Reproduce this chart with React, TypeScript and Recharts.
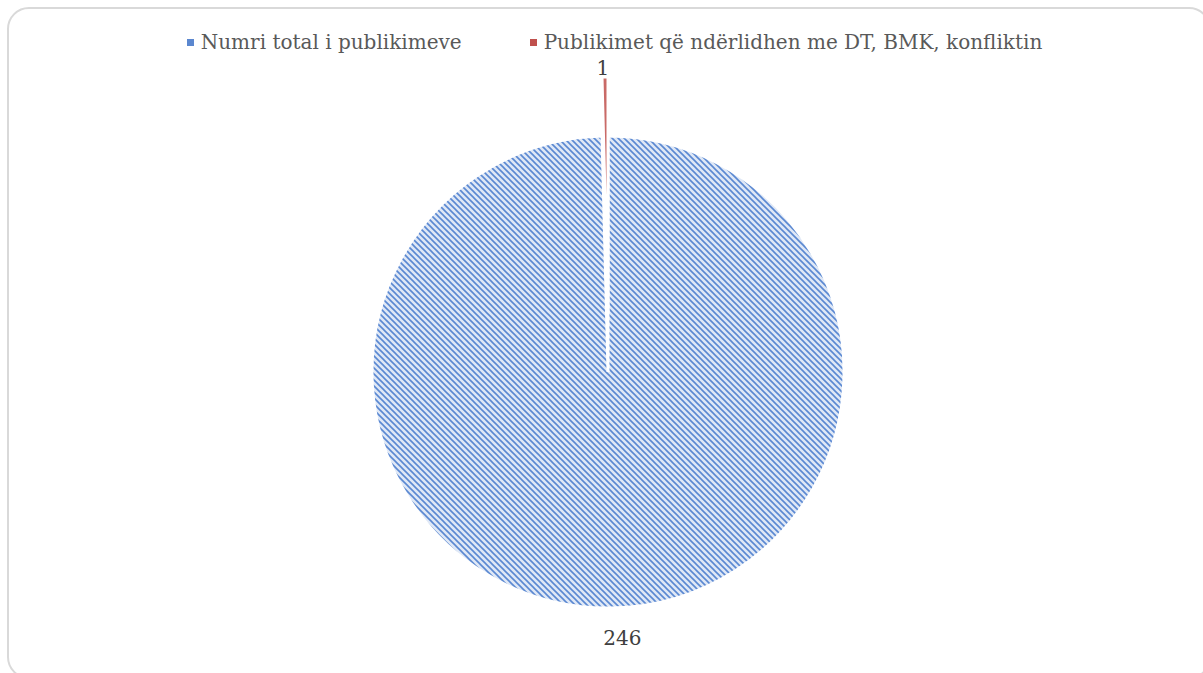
import React from 'react';
import { PieChart, Pie, Cell } from 'recharts';

const categories = ['Numri total i publikimeve', 'Publikimet që ndërlidhen me DT, BMK, konfliktin'];
const values = [246, 1];
const colors = ['url(#hatchBlue)', '#c96a67'];
const legendSwatch = ['#5b87cf', '#c0504d'];

const W = 1203;
const H = 673;
const CX = 603;
const CY = 367;
const R = 236;
const EXPLODE = 59;

const FONT = '"DejaVu Serif", serif';

const data = categories.map((name, i) => ({ name, value: values[i] }));

// label only for the slice we want from each pie
const makeLabel = (keep: number, dist: number, dx: number, dy: number) => (props: any) => {
  const { index, cx, cy, midAngle, outerRadius } = props;
  if (index !== keep) return null;
  const rad = (Math.PI / 180) * midAngle;
  const x = cx + (outerRadius + dist) * Math.cos(rad) + dx;
  const y = cy - (outerRadius + dist) * Math.sin(rad) + dy;
  return (
    <text x={x} y={y} textAnchor="middle" dominantBaseline="central" fill="#404040" fontSize={20} fontFamily={FONT}>
      {values[index]}
    </text>
  );
};

export default function App() {
  return (
    <div style={{ position: 'absolute', left: 0, top: 0, width: W, height: H, background: '#fff', overflow: 'hidden' }}>
      <svg width={0} height={0} style={{ position: 'absolute' }}>
        <defs>
          <pattern id="hatchBlue" width={6} height={6} patternUnits="userSpaceOnUse">
            <rect width={6} height={6} fill="#dfe8f6" />
            <path d="M0,0 L6,6 M-1,5 L1,7 M5,-1 L7,1" stroke="#5a88d2" strokeWidth={1.6} />
          </pattern>
        </defs>
      </svg>

      {/* rounded frame */}
      <div
        style={{
          position: 'absolute',
          left: 7,
          top: 7,
          width: 1204,
          height: 672,
          border: '2px solid #d9d9d9',
          borderRadius: 22,
          boxSizing: 'border-box',
        }}
      />

      {/* legend */}
      <div
        style={{
          position: 'absolute',
          top: 31,
          left: 0,
          width: W,
          display: 'flex',
          justifyContent: 'center',
          gap: 68,
          paddingLeft: 26,
          boxSizing: 'border-box',
          fontFamily: FONT,
          fontSize: 20,
          lineHeight: '23px',
          color: '#595959',
        }}
      >
        {categories.map((c, i) => (
          <div key={c} style={{ display: 'flex', alignItems: 'center', gap: 7 }}>
            <span style={{ width: 7, height: 7, background: legendSwatch[i], display: 'inline-block' }} />
            <span>{c}</span>
          </div>
        ))}
      </div>

      <div style={{ position: 'absolute', left: 0, top: 0 }}>
        <PieChart width={W} height={H}>
          <Pie
            data={data}
            dataKey="value"
            cx={CX}
            cy={CY}
            outerRadius={R}
            startAngle={90}
            endAngle={-270}
            stroke="#fff"
            strokeWidth={3}
            isAnimationActive={false}
            labelLine={false}
            label={makeLabel(0, 30, 11, 0)}
          >
            <Cell fill={colors[0]} />
            <Cell fill="transparent" stroke="none" />
          </Pie>
          <Pie
            data={data}
            dataKey="value"
            cx={CX}
            cy={CY - EXPLODE}
            outerRadius={R}
            startAngle={90}
            endAngle={-270}
            stroke="#fff"
            strokeWidth={3}
            isAnimationActive={false}
            labelLine={false}
            label={makeLabel(1, 14, -2, 5)}
          >
            <Cell fill="transparent" stroke="none" />
            <Cell fill={colors[1]} />
          </Pie>
        </PieChart>
      </div>
    </div>
  );
}
